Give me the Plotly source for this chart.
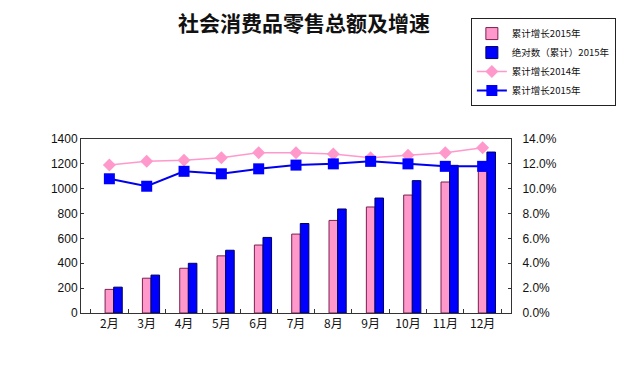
import plotly.graph_objects as go

months = ["2月", "3月", "4月", "5月", "6月", "7月", "8月", "9月", "10月", "11月", "12月"]
bar_2015_growth = [190, 280, 360, 460, 547, 635, 745, 853, 949, 1054, 1140]
bar_2015_abs = [208, 305, 400, 505, 608, 720, 837, 925, 1065, 1188, 1295]
line_2014 = [11.9, 12.2, 12.3, 12.5, 12.9, 12.9, 12.8, 12.5, 12.7, 12.9, 13.3]
line_2015 = [10.8, 10.2, 11.4, 11.2, 11.6, 11.9, 12.0, 12.2, 12.0, 11.8, 11.8]

names = ["累计增长2015年", "绝对数（累计）2015年", "累计增长2014年", "累计增长2015年"]

fig = go.Figure()
fig.add_trace(go.Bar(x=months, y=bar_2015_growth, name=names[0], offset=-0.115, width=0.23,
                     marker=dict(color="#FF99CC", line=dict(color="#7a2050", width=1))))
fig.add_trace(go.Bar(x=months, y=bar_2015_abs, name=names[1], offset=0.115, width=0.23,
                     marker=dict(color="#0000FF", line=dict(color="#000066", width=1))))
fig.add_trace(go.Scatter(x=months, y=line_2014, name=names[2], yaxis="y2", mode="lines+markers",
                         line=dict(color="#FF99CC", width=1.5),
                         marker=dict(symbol="diamond", size=10, color="#FF99CC")))
fig.add_trace(go.Scatter(x=months, y=line_2015, name=names[3], yaxis="y2", mode="lines+markers",
                         line=dict(color="#0000EE", width=2),
                         marker=dict(symbol="square", size=11, color="#0000FF")))

font_num = "Liberation Sans, Arial, Noto Sans CJK SC"
fig.update_layout(
    width=627, height=366,
    margin=dict(l=81, r=115, t=139, b=53),
    paper_bgcolor="white", plot_bgcolor="white",
    barmode="group",
    title=dict(text="<b>社会消费品零售总额及增速</b>", x=0.485, xanchor="center",
               y=0.935, yanchor="middle",
               font=dict(family="Noto Sans CJK SC", size=21, color="#111")),
    font=dict(family=font_num, size=12, color="#111"),
    xaxis=dict(showline=True, linecolor="#333", linewidth=1, mirror=True,
               ticks="inside", tickson="boundaries", ticklen=4, tickcolor="#333",
               tickfont=dict(family="Noto Sans CJK SC", size=12), showgrid=False),
    yaxis=dict(range=[0, 1400], dtick=200, showline=True, linecolor="#333", linewidth=1,
               showgrid=False, zeroline=False, ticks="inside", ticklen=3, tickcolor="#333",
               tickfont=dict(size=12)),
    yaxis2=dict(range=[0, 14], dtick=2, overlaying="y", side="right", showline=True,
                linecolor="#333", linewidth=1, showgrid=False, zeroline=False,
                ticks="inside", ticklen=3, tickcolor="#333", ticklabelstandoff=8,
                tickformat=".1f", ticksuffix="%", tickfont=dict(size=12)),
    legend=dict(x=1.241, y=1.695, xanchor="right", yanchor="top",
                bordercolor="#222", borderwidth=1, bgcolor="white",
                font=dict(family="Noto Sans CJK SC", size=9.5), traceorder="normal",
                tracegroupgap=0, itemwidth=30),
    showlegend=True,
)

fig.write_html("out.html", config={"displayModeBar": False})
with open("out.html", encoding="utf-8") as f:
    html = f.read()
html = html.replace("<body>", '<body style="margin:0;overflow:hidden">', 1)
with open("out.html", "w", encoding="utf-8") as f:
    f.write(html)
